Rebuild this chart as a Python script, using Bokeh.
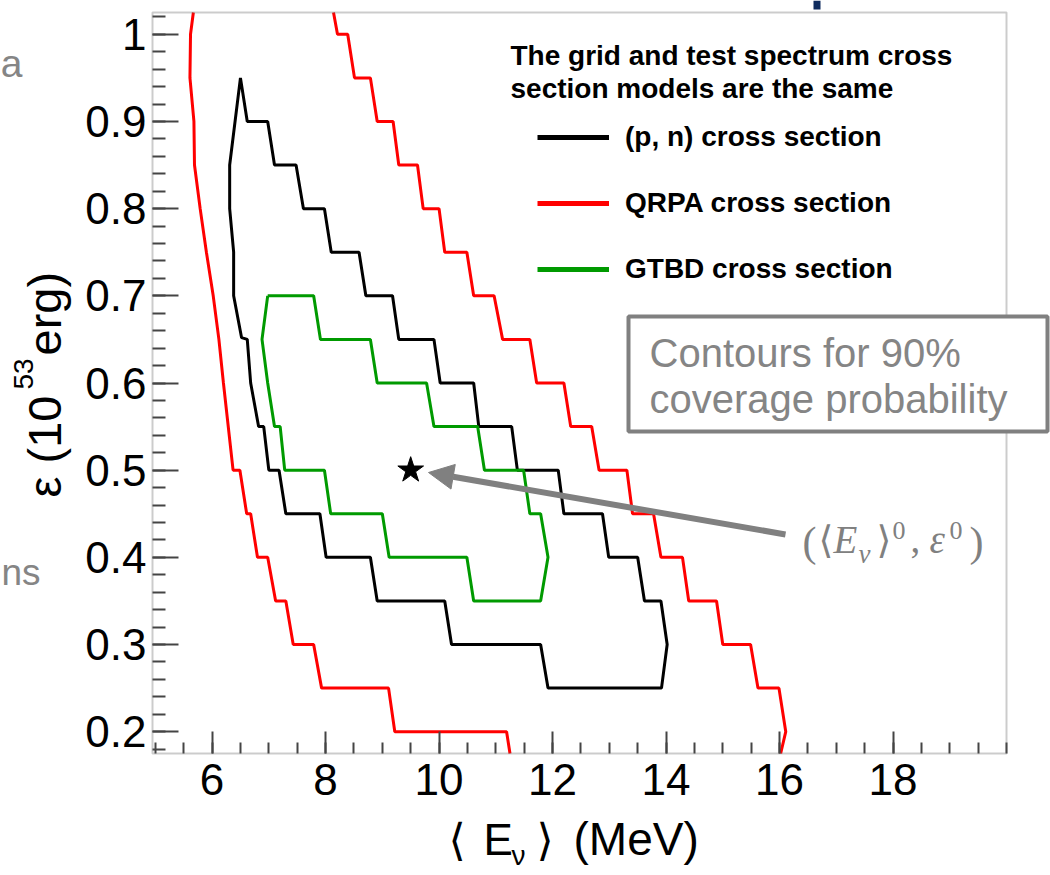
import numpy as np
from bokeh.plotting import figure
from bokeh.models import (Range1d, FixedTicker, PrintfTickFormatter, Label, Legend,
                          LegendItem, Arrow, NormalHead, BoxAnnotation, LinearAxis)
from bokeh.embed import file_html
from bokeh.resources import INLINE

# ---------------- data ----------------
x_ticks = [6, 8, 10, 12, 14, 16, 18]
x_tick_labels = ["6", "8", "10", "12", "14", "16", "18"]
x_minor = [5.0 + 0.5 * i for i in range(31)]
y_ticks = [0.2, 0.3, 0.4, 0.5, 0.6, 0.7, 0.8, 0.9, 1.0]
y_tick_labels = ["0.2", "0.3", "0.4", "0.5", "0.6", "0.7", "0.8", "0.9", "1"]
y_minor = [round(0.18 + 0.02 * i, 2) for i in range(43)]

series_names = ["(p, n) cross section", "QRPA cross section", "GTBD cross section"]
series_colors = ["#000000", "#ff0000", "#009a00"]

# (p, n) contour (black, closed)
black_x = [6.50, 6.62, 6.98, 7.10, 7.48, 7.61, 7.98, 8.10, 8.59, 8.71,
           9.18, 9.29, 9.91, 10.02, 10.61, 10.70, 11.28, 11.38, 12.10, 12.20,
           12.88, 12.99, 13.50, 13.62, 13.91, 14.02, 13.92, 11.92, 11.79, 10.22,
           10.10, 8.91, 8.79, 8.01, 7.90, 7.30, 7.18, 7.00, 6.91, 6.82,
           6.68, 6.62, 6.52, 6.38, 6.38, 6.31, 6.31, 6.50]
black_y = [0.95, 0.90, 0.90, 0.85, 0.85, 0.80, 0.80, 0.75, 0.75, 0.70,
           0.70, 0.65, 0.65, 0.60, 0.60, 0.55, 0.55, 0.50, 0.50, 0.45,
           0.45, 0.40, 0.40, 0.35, 0.35, 0.30, 0.25, 0.25, 0.30, 0.30,
           0.35, 0.35, 0.40, 0.40, 0.45, 0.45, 0.50, 0.50, 0.55, 0.55,
           0.60, 0.65, 0.652, 0.70, 0.75, 0.80, 0.85, 0.95]

# QRPA contour (red, open: left and right branches)
red_left_x = [5.67, 5.62, 5.61, 5.68, 5.69, 5.79, 5.90, 6.02, 6.12, 6.20,
              6.37, 6.49, 6.61, 6.68, 6.80, 6.98, 7.12, 7.30, 7.43, 7.79,
              7.93, 9.11, 9.22, 11.19, 11.25]
red_left_y = [1.025, 1.00, 0.95, 0.90, 0.85, 0.80, 0.75, 0.70, 0.65, 0.60,
              0.50, 0.50, 0.45, 0.45, 0.40, 0.40, 0.35, 0.35, 0.30, 0.30,
              0.25, 0.25, 0.20, 0.20, 0.175]
red_right_x = [8.14, 8.21, 8.39, 8.51, 8.79, 8.91, 9.19, 9.29, 9.62, 9.72,
               10.00, 10.10, 10.49, 10.61, 10.97, 11.12, 11.60, 11.72, 12.20, 12.32,
               12.69, 12.82, 13.31, 13.41, 13.78, 13.91, 14.29, 14.40, 14.89, 15.00,
               15.49, 15.62, 15.99, 16.11, 16.02]
red_right_y = [1.025, 1.00, 1.00, 0.95, 0.95, 0.90, 0.90, 0.85, 0.85, 0.80,
               0.80, 0.75, 0.75, 0.70, 0.70, 0.65, 0.65, 0.60, 0.60, 0.55,
               0.55, 0.50, 0.50, 0.45, 0.45, 0.40, 0.40, 0.35, 0.35, 0.30,
               0.30, 0.25, 0.25, 0.20, 0.175]

# GTBD contour (green, closed)
green_x = [6.98, 7.79, 7.91, 8.79, 8.91, 9.78, 9.91, 10.68, 10.80, 11.49,
           11.60, 11.79, 11.92, 11.79, 10.61, 10.49, 9.12, 9.00, 8.09, 7.98,
           7.28, 7.20, 7.10, 6.98, 6.88, 6.98]
green_y = [0.70, 0.70, 0.65, 0.65, 0.60, 0.60, 0.55, 0.55, 0.50, 0.50,
           0.45, 0.45, 0.40, 0.35, 0.35, 0.40, 0.40, 0.45, 0.45, 0.50,
           0.50, 0.55, 0.55, 0.60, 0.65, 0.70]

# true point
star_x = [9.5]
star_y = [0.5]

# ---------------- layout ----------------
W, H = 1050, 875
FL, FR, FT, FB = 152, 1006, 12, 753          # plot box in canvas pixels
XMIN, XMAX = 4.95, 20.0
YMIN, YMAX = 0.175, 1.025


def dx(px):
    return XMIN + (px - FL) * (XMAX - XMIN) / (FR - FL)


def dy(py):
    return YMIN + (FB - py) * (YMAX - YMIN) / (FB - FT)


FONT = "Liberation Sans"
SERIF = "Liberation Serif"
GRAY = "#808080"
TXTGRAY = "#858585"
KB = 0.36   # observed baseline offset of svg labels (fraction of font size)

# the frame spans the whole canvas so that the slide texts around the
# ROOT box can be drawn too; the box itself is drawn as an annotation
p = figure(width=W, height=H, output_backend="svg", toolbar_location=None,
           x_range=Range1d(dx(0), dx(W)), y_range=Range1d(dy(H), dy(0)),
           x_axis_location=None, y_axis_location=None,
           min_border_left=0, min_border_right=0,
           min_border_top=0, min_border_bottom=0)
p.background_fill_color = "white"
p.border_fill_color = "white"
p.grid.visible = False
p.outline_line_color = None

# axes pinned to the box edges
xax = LinearAxis(fixed_location=YMIN)
yax = LinearAxis(fixed_location=XMIN)
p.add_layout(xax, "below")
p.add_layout(yax, "left")
xax.ticker = FixedTicker(ticks=x_ticks, minor_ticks=x_minor)
yax.ticker = FixedTicker(ticks=y_ticks, minor_ticks=y_minor)
xax.formatter = PrintfTickFormatter(format="%.2g")
yax.formatter = PrintfTickFormatter(format="%.2g")
xax.major_label_overrides = {t: l for t, l in zip(x_ticks, x_tick_labels)}
yax.major_label_overrides = {t: l for t, l in zip(y_ticks, y_tick_labels)}
for ax, maj, mnr, so in ((xax, 22, 11, 10), (yax, 26, 13, 6)):
    ax.major_label_text_font = FONT
    ax.major_label_text_font_size = "44px"
    ax.major_label_text_color = "black"
    ax.major_label_standoff = so
    ax.major_tick_in = maj
    ax.major_tick_out = 0
    ax.minor_tick_in = mnr
    ax.minor_tick_out = 0
    ax.major_tick_line_color = "#444444"
    ax.minor_tick_line_color = "#444444"
    ax.major_tick_line_width = 2
    ax.minor_tick_line_width = 2
    ax.axis_line_color = None

# contours
p.line(red_left_x, red_left_y, line_color=series_colors[1], line_width=3)
p.line(red_right_x, red_right_y, line_color=series_colors[1], line_width=3)
p.line(black_x, black_y, line_color=series_colors[0], line_width=3)
p.line(green_x, green_y, line_color=series_colors[2], line_width=3)
p.scatter(star_x, star_y, marker="star", size=27, color="black")

# ROOT pad frame
p.add_layout(BoxAnnotation(left=XMIN, right=XMAX, bottom=YMIN, top=YMAX,
                           fill_alpha=0, line_color="#555555", line_width=2))

# legend (swatches thicker than the plotted lines)
items = []
for name, col in zip(series_names, series_colors):
    r = p.line(x=[np.nan], y=[np.nan], line_color=col, line_width=5)
    items.append(LegendItem(label=name, renderers=[r]))
leg = Legend(items=items, location=(537, H - 289), glyph_width=72,
             glyph_height=40, label_height=40, spacing=26, padding=0, margin=0,
             label_standoff=16, border_line_color=None, background_fill_alpha=0,
             label_text_font=FONT, label_text_font_style="bold",
             label_text_font_size="28px", label_text_color="black")
p.add_layout(leg)


def lab(text, px, py, size, color="black", font=FONT, style="normal",
        align="left", angle=0.0):
    """px, py: left end of the baseline in canvas pixels."""
    if angle:
        px = px - KB * size
    else:
        py = py - KB * size
    p.add_layout(Label(x=dx(px), y=dy(py), text=text, text_font=font,
                       text_font_style=style, text_font_size=f"{size}px",
                       text_color=color, text_align=align,
                       text_baseline="alphabetic", angle=angle))


# legend header
lab("The grid and test spectrum cross", 510, 65, 28, style="bold")
lab("section models are the same", 510, 98, 28, style="bold")

# slide box with caption
p.add_layout(BoxAnnotation(left=dx(628), right=dx(1047), top=dy(316), bottom=dy(431),
                           fill_color="white", fill_alpha=1.0,
                           line_color=GRAY, line_width=4, line_alpha=1.0))
lab("Contours for 90%", 649, 367, 40, color=TXTGRAY)
lab("coverage probability", 649, 413, 40, color=TXTGRAY)

# arrow to the true point
p.add_layout(Arrow(end=NormalHead(size=25, fill_color=GRAY, line_color=GRAY),
                   x_start=dx(785), y_start=dy(534), x_end=dx(428), y_end=dy(472),
                   line_color=GRAY, line_width=6))

# math label ((E_nu)^0, eps^0)
lab("(", 802, 557, 42, color=GRAY, font=SERIF)
lab("\u27e8", 818, 553, 38, color=GRAY, font="DejaVu Serif")
lab("E", 833, 553, 39, color=GRAY, font=SERIF, style="italic")
lab("\u03bd", 858, 563, 27, color=GRAY, font=SERIF, style="italic")
lab("\u27e9", 876, 553, 38, color=GRAY, font="DejaVu Serif")
lab("0", 892, 539, 26, color=GRAY, font=SERIF)
lab(",", 910, 553, 39, color=GRAY, font=SERIF)
lab("\u03b5", 929, 553, 39, color=GRAY, font=SERIF, style="italic")
lab("0", 949, 539, 26, color=GRAY, font=SERIF)
lab(")", 969, 557, 42, color=GRAY, font=SERIF)

# x axis title  < E_nu > (MeV)
lab("\u27e8", 448, 855, 44, font="DejaVu Sans")
lab("E", 483, 855, 44)
lab("\u03bd", 511, 865, 28)
lab("\u27e9", 536, 855, 44, font="DejaVu Sans")
lab("(MeV)", 573, 855, 46)

# y axis title  eps (10^53 erg), rotated
ROT = np.pi / 2
lab("\u03b5 (10", 61, 497, 47, angle=ROT)
lab("53", 33, 389, 28, angle=ROT)
lab("erg)", 61, 355, 47, angle=ROT)

# fragments of the slide behind the plot
lab("a", 22, 77, 39, color=TXTGRAY, align="right")
lab("ns", 1, 585, 37, color=TXTGRAY)
p.add_layout(BoxAnnotation(left=dx(813), right=dx(820), top=dy(0), bottom=dy(9),
                           fill_color="#0f2b5e", fill_alpha=1.0, line_color=None))

open("out.html", "w").write(file_html(p, INLINE))
